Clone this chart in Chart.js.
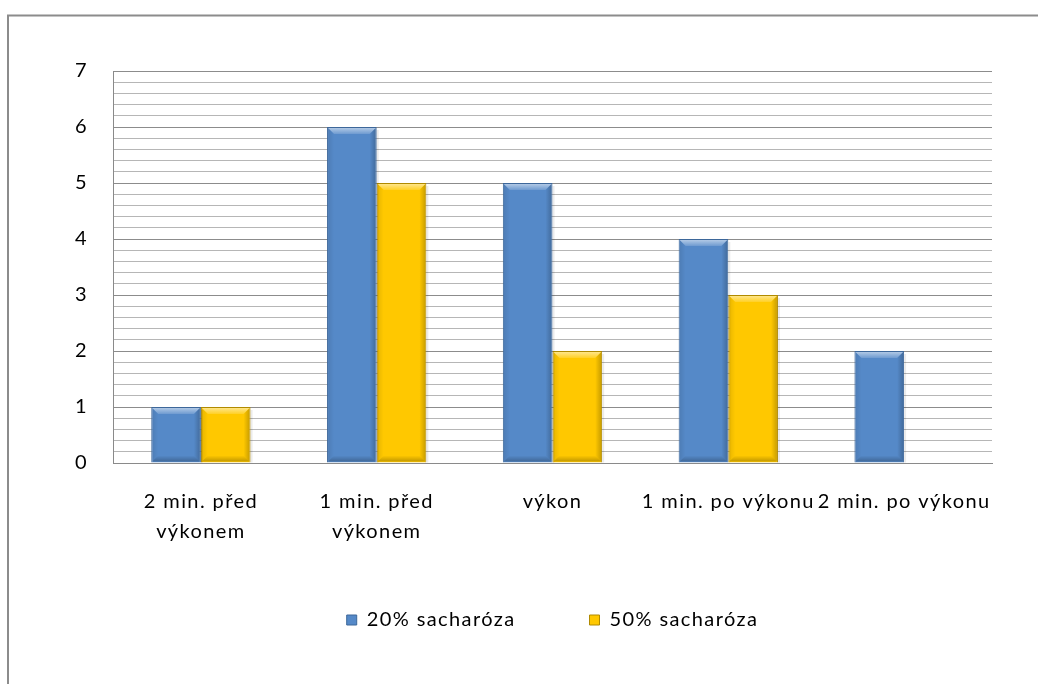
<!DOCTYPE html>
<html>
<head>
<meta charset="utf-8">
<script src="https://cdn.jsdelivr.net/npm/chart.js@4"></script>
<style>
  html, body { margin: 0; padding: 0; background: #fff; }
  #wrap { width: 1039px; height: 684px; position: relative; }
</style>
</head>
<body>
<div id="wrap"><canvas id="c" width="1039" height="684"></canvas></div>
<script>
// Categories (time points) and the two sucrose series
const categories = [["2 min. před", "výkonem"], ["1 min. před", "výkonem"], "výkon", "1 min. po výkonu", "2 min. po výkonu"];
const seriesNames = ["20% sacharóza", "50% sacharóza"];
const sucrose20 = [1, 6, 5, 4, 2];
const sucrose50 = [1, 5, 2, 3, 0];
const yMin = 0;
const yMax = 7;
const yMinorStep = 0.2;

const FONT = "Lato, 'Open Sans', sans-serif";
const LETTER_SPACING = '1.4px';
const LEGEND_GAP = 74;

// Slightly open letter spacing for all chart text
const spacingPlugin = {
  id: 'spacing',
  beforeUpdate(chart) { chart.ctx.letterSpacing = LETTER_SPACING; },
  beforeLayout(chart) { chart.ctx.letterSpacing = LETTER_SPACING; },
  beforeDraw(chart) { chart.ctx.letterSpacing = LETTER_SPACING; }
};

// The wide item gap also pads the legend vertically; pull the legend row back up
const legendLiftPlugin = {
  id: 'legendLift',
  afterLayout(chart) {
    const lg = chart.legend;
    if (!lg) return;
    const lift = 14;
    lg.top -= lift;
    lg.bottom -= lift;
  }
};

// Outer frame of the chart object (left and top edge)
const framePlugin = {
  id: 'frame',
  beforeDraw(chart) {
    const ctx = chart.ctx;
    ctx.save();
    ctx.strokeStyle = '#8c8c8c';
    ctx.lineWidth = 2;
    ctx.beginPath();
    ctx.moveTo(8, 684);
    ctx.lineTo(8, 15.5);
    ctx.lineTo(1038, 15.5);
    ctx.stroke();
    ctx.restore();
  }
};

// Soft bevel shading on each bar, using the bar geometry from the chart
const bevelPlugin = {
  id: 'bevel',
  afterDatasetsDraw(chart) {
    const ctx = chart.ctx;
    chart.data.datasets.forEach((ds, di) => {
      const meta = chart.getDatasetMeta(di);
      meta.data.forEach(el => {
        const p = el.getProps(['x', 'y', 'base', 'width'], true);
        const l = p.x - p.width / 2, r = p.x + p.width / 2;
        const t = Math.min(p.y, p.base), b = Math.max(p.y, p.base);
        if (b - t < 2) return;
        const bv = Math.min(7, (b - t) / 3);
        ctx.save();
        // top highlight
        let g = ctx.createLinearGradient(0, t, 0, t + bv);
        g.addColorStop(0, 'rgba(255,255,255,0.6)');
        g.addColorStop(1, 'rgba(255,255,255,0.15)');
        ctx.fillStyle = g;
        ctx.beginPath();
        ctx.moveTo(l + 1, t + 1); ctx.lineTo(r - 1, t + 1);
        ctx.lineTo(r - bv, t + bv); ctx.lineTo(l + bv, t + bv);
        ctx.closePath(); ctx.fill();
        // left edge
        g = ctx.createLinearGradient(l, 0, l + bv, 0);
        g.addColorStop(0, 'rgba(0,0,0,0.10)');
        g.addColorStop(1, 'rgba(0,0,0,0.0)');
        ctx.fillStyle = g;
        ctx.beginPath();
        ctx.moveTo(l + 1, t + 1); ctx.lineTo(l + bv, t + bv);
        ctx.lineTo(l + bv, b - bv); ctx.lineTo(l + 1, b - 1);
        ctx.closePath(); ctx.fill();
        // right edge
        g = ctx.createLinearGradient(r, 0, r - bv, 0);
        g.addColorStop(0, 'rgba(0,0,0,0.24)');
        g.addColorStop(1, 'rgba(0,0,0,0.0)');
        ctx.fillStyle = g;
        ctx.beginPath();
        ctx.moveTo(r - 1, t + 1); ctx.lineTo(r - bv, t + bv);
        ctx.lineTo(r - bv, b - bv); ctx.lineTo(r - 1, b - 1);
        ctx.closePath(); ctx.fill();
        // bottom edge
        g = ctx.createLinearGradient(0, b, 0, b - bv);
        g.addColorStop(0, 'rgba(0,0,0,0.28)');
        g.addColorStop(1, 'rgba(0,0,0,0.0)');
        ctx.fillStyle = g;
        ctx.beginPath();
        ctx.moveTo(l + 1, b - 1); ctx.lineTo(r - 1, b - 1);
        ctx.lineTo(r - bv, b - bv); ctx.lineTo(l + bv, b - bv);
        ctx.closePath(); ctx.fill();
        // faint drop shadow on the right
        ctx.fillStyle = 'rgba(0,0,0,0.08)';
        ctx.fillRect(r, t + 3, 2, b - t - 3);
        ctx.restore();
      });
    });
  }
};

const isWhole = v => Math.abs(v - Math.round(v)) < 1e-6;

new Chart(document.getElementById('c'), {
  type: 'bar',
  data: {
    labels: categories,
    datasets: [
      {
        label: seriesNames[0],
        data: sucrose20,
        backgroundColor: '#5589c8',
        borderColor: '#3d679a',
        borderWidth: 1,
        categoryPercentage: 0.565,
        barPercentage: 1.0
      },
      {
        label: seriesNames[1],
        data: sucrose50,
        backgroundColor: '#ffc800',
        borderColor: '#b08a00',
        borderWidth: 1,
        categoryPercentage: 0.565,
        barPercentage: 1.0
      }
    ]
  },
  options: {
    responsive: false,
    animation: false,
    devicePixelRatio: 1,
    layout: { padding: { left: 0, right: 47, top: 71, bottom: 30 } },
    plugins: {
      tooltip: { enabled: false },
      legend: {
        position: 'bottom',
        fullSize: false,
        labels: {
          font: { family: FONT, size: 20 },
          color: '#000',
          boxWidth: 10,
          boxHeight: 10,
          padding: LEGEND_GAP
        }
      }
    },
    scales: {
      x: {
        grid: { display: false },
        border: { display: true, color: '#8a8a8a', width: 1 },
        ticks: {
          font: { family: FONT, size: 20, lineHeight: 1.5 },
          color: '#000',
          padding: 16,
          maxRotation: 0,
          autoSkip: false
        },
        afterFit(scale) { scale.height = 87; }
      },
      y: {
        min: yMin,
        max: yMax,
        grid: {
          drawTicks: false,
          color: ctx => isWhole(ctx.tick.value) ? '#8c8c8c' : '#b6b6b6',
          lineWidth: 1
        },
        border: { display: true, color: '#8a8a8a', width: 1 },
        ticks: {
          stepSize: yMinorStep,
          autoSkip: false,
          font: { family: FONT, size: 20 },
          color: '#000',
          padding: 25,
          callback: v => isWhole(v) ? String(Math.round(v)) : ''
        },
        afterFit(scale) { scale.width = 113; }
      }
    }
  },
  plugins: [spacingPlugin, legendLiftPlugin, framePlugin, bevelPlugin]
});
</script>
</body>
</html>
